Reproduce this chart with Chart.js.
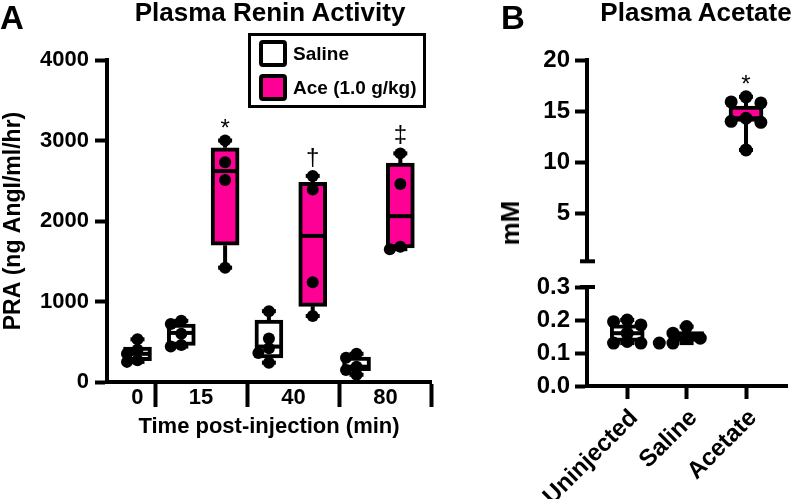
<!DOCTYPE html>
<html lang="en">
<head>
<meta charset="UTF-8" />
<title>Plasma Renin Activity / Plasma Acetate</title>
<script src="https://cdn.jsdelivr.net/npm/chart.js"></script>
<style>
    body { margin: 0; background: #fff; }
    #fig { position: relative; width: 806px; height: 499px; overflow: hidden;
           font-family: 'Liberation Sans', Arial, sans-serif; font-weight: bold; color: #000; }
    #fig canvas { position: absolute; top: 0; }
    .txt { position: absolute; white-space: nowrap; line-height: 1; }
    #legend { position: absolute; left: 248px; top: 33px; width: 172px; height: 69px; border: 3px solid #000; }
    .key { position: absolute; left: 8px; height: 27px; display: flex; align-items: center; font-size: 19px; }
    .sw { width: 28px; height: 27px; box-sizing: border-box; border: 4px solid #000; border-radius: 4px; margin-right: 6px; }
</style>
</head>
<body>
<div id="fig">
    <canvas id="praChart" width="460" height="499" style="left:0"></canvas>
    <canvas id="aceHigh" width="346" height="499" style="left:460px"></canvas>
    <canvas id="aceLow" width="346" height="499" style="left:460px"></canvas>

    <div class="txt" style="left:0; top:1px; font-size:33px;">A</div>
    <div class="txt" style="left:270px; top:-1px; font-size:26px; transform:translateX(-50%);">Plasma Renin Activity</div>
    <div id="legend"></div>

    <div class="txt" style="left:501px; top:1px; font-size:33px;">B</div>
    <div class="txt" style="left:696px; top:-1px; font-size:26px; transform:translateX(-50%);">Plasma Acetate</div>
    <div class="txt" style="left:510px; top:223px; font-size:26px; transform:translate(-50%,-50%) rotate(-90deg);">mM</div>
</div>

<script>
    // ---- panel A : plasma renin activity ----
    const seriesNames = ['Saline', 'Ace (1.0 g/kg)'];
    const praGroups = ['0', '15', '40', '80'];
    const praGroupPos = [0, 1.45, 3.56, 5.66];       // where the time labels sit
    const praDividers = [0.4, 2.5, 4.62, 6.7];        // tick marks between time groups
    const praX = [0, 1, 2, 3, 4, 5, 6];
    const praSeries = [0, 0, 1, 0, 1, 0, 1];          // 0 = saline, 1 = acetate
    const praMin = [250, 440, 1420, 240, 820, 90, 1650];
    const praQ1 = [265, 455, 1700, 300, 940, 140, 1665];
    const praMedian = [350, 610, 2620, 440, 1815, 190, 2060];
    const praQ3 = [435, 720, 2910, 770, 2480, 310, 2720];
    const praMax = [530, 760, 3000, 880, 2560, 350, 2840];
    const praPoints = [
        [530, 400, 350, 270, 250],
        [760, 720, 600, 460, 440],
        [3000, 2730, 2510, 1420],
        [880, 540, 420, 360, 240],
        [2560, 2390, 1240, 820],
        [350, 300, 190, 150, 90],
        [2840, 2460, 1680, 1650]
    ];
    const praMarks = ['', '', '*', '', '†', '', '‡'];
    const praYTicks = [0, 1000, 2000, 3000, 4000];

    // ---- panel B : plasma acetate ----
    const aceGroups = ['Uninjected', 'Saline', 'Acetate'];
    const aceX = [0, 1, 2];
    const aceSeries = [0, 0, 1];
    const aceMin = [0.13, 0.13, 11.2];
    const aceQ1 = [0.135, 0.135, 14.0];
    const aceMedian = [0.16, 0.15, 14.3];
    const aceQ3 = [0.185, 0.165, 15.5];
    const aceMax = [0.20, 0.18, 16.4];
    const acePoints = [
        [0.20, 0.195, 0.185, 0.16, 0.135, 0.13, 0.13],
        [0.18, 0.16, 0.15, 0.145, 0.13, 0.13],
        [16.4, 15.9, 15.8, 14.3, 14.0, 13.9, 11.2]
    ];
    const aceMarks = ['', '', '*'];
    const aceHighTicks = [0.3, 5, 10, 15, 20];
    const aceLowTicks = [0, 0.1, 0.2, 0.3];

    const magenta = '#ff0096';
    const fills = ['#ffffff', magenta];
    const FONT = "'Liberation Sans', Arial, sans-serif";

    Chart.defaults.font.family = FONT;
    Chart.defaults.font.weight = 'bold';
    Chart.defaults.color = '#000';

    // legend
    const legend = document.getElementById('legend');
    seriesNames.forEach((name, k) => {
        const row = document.createElement('div');
        row.className = 'key';
        row.style.top = (4 + k * 34) + 'px';
        row.innerHTML = `<span class="sw" style="background:${fills[k]}"></span>${name}`;
        legend.appendChild(row);
    });

    // points lying close together are put side by side
    function spread(vals, tol, step) {
        const slots = [0, -1, 1, -2, 2];
        const out = [];
        vals.forEach((v, k) => {
            const used = out.filter((o, j) => Math.abs(vals[j] - v) < tol);
            const s = slots.find(s => !used.includes(s * step));
            out.push((s === undefined ? 0 : s) * step);
        });
        return out;
    }

    function boxSets(idx, xs, mins, q1s, meds, q3s, maxs, pts, series, sz) {
        const whisk = [], caps = [], mids = [], dots = [];
        idx.forEach(i => {
            const x = xs[i];
            whisk.push({x, y: maxs[i]}, {x, y: q3s[i]}, {x, y: null},
                       {x, y: q1s[i]}, {x, y: mins[i]}, {x, y: null});
            caps.push({x, y: mins[i]}, {x, y: maxs[i]});
            mids.push({x, y: meds[i]});
            const off = spread(pts[i], sz.tol, sz.jitter);
            pts[i].forEach((v, k) => dots.push({x: x + off[k], y: v}));
        });
        return [
            { type: 'bar', data: idx.map(i => ({x: xs[i], y: [q1s[i], q3s[i]]})),
              backgroundColor: idx.map(i => fills[series[i]]), borderColor: '#000', borderWidth: 4,
              borderSkipped: false, barThickness: sz.bar, order: 4 },
            { type: 'line', data: whisk, borderColor: '#000', borderWidth: 4, pointRadius: 0,
              spanGaps: false, fill: false, clip: false, order: 3 },
            { type: 'scatter', data: caps, pointStyle: 'line', pointRadius: 7, pointBorderWidth: 4,
              pointBorderColor: '#000', clip: false, order: 2 },
            { type: 'scatter', data: mids, pointStyle: 'line', pointRadius: sz.bar / 2 - 2, pointBorderWidth: 4,
              pointBorderColor: '#000', clip: false, order: 1 },
            { type: 'scatter', data: dots, pointStyle: 'circle', pointRadius: sz.dot, pointBackgroundColor: '#000',
              pointBorderWidth: 0, clip: false, order: 0 }
        ];
    }

    // significance symbols above the top whisker
    function marksPlugin(idx, xs, maxs, marks) {
        const lift = {'*': 5, '†': 11, '‡': 11};
        return {
            id: 'marks',
            afterDatasetsDraw(chart) {
                const {ctx, scales: {x, y}} = chart;
                ctx.save();
                ctx.font = '24px ' + FONT;
                ctx.textAlign = 'center';
                ctx.textBaseline = 'alphabetic';
                ctx.fillStyle = '#000';
                idx.forEach(i => {
                    if (!marks[i]) return;
                    ctx.fillText(marks[i], x.getPixelForValue(xs[i]), y.getPixelForValue(maxs[i]) - lift[marks[i]]);
                });
                ctx.restore();
            }
        };
    }

    // end cap where the y axis is broken
    function breakCap(edge) {
        return {
            id: 'breakCap',
            afterDraw(chart) {
                const {ctx, chartArea} = chart;
                const y = edge === 'bottom' ? chartArea.bottom : chartArea.top;
                ctx.save();
                ctx.strokeStyle = '#000';
                ctx.lineWidth = 4;
                ctx.beginPath();
                ctx.moveTo(chartArea.left - 7, y);
                ctx.lineTo(chartArea.left + 8, y);
                ctx.stroke();
                ctx.restore();
            }
        };
    }

    const axisLine = { color: '#000', width: 4 };

    // ---------- Panel A ----------
    const praTickVals = [...praGroupPos, ...praDividers].sort((a, b) => a - b);
    new Chart(document.getElementById('praChart'), {
        type: 'bar',
        data: { datasets: boxSets(praX, praX, praMin, praQ1, praMedian, praQ3, praMax, praPoints, praSeries,
                                  {bar: 28, dot: 6, jitter: 0.24, tol: 100}) },
        options: {
            responsive: false, animation: false, events: [],
            layout: { padding: { left: 0, top: 60, right: 29, bottom: 0 } },
            plugins: { legend: { display: false }, tooltip: { enabled: false } },
            scales: {
                x: {
                    type: 'linear', min: -0.696, max: 6.7, offset: false,
                    afterBuildTicks: s => { s.ticks = praTickVals.map(v => ({value: v})); },
                    afterFit: s => { s.height = 117; },
                    border: axisLine,
                    grid: { offset: false, drawOnChartArea: false, tickLength: 25, tickWidth: 4,
                            tickColor: c => (c.tick && praDividers.includes(c.tick.value)) ? '#000' : 'rgba(0,0,0,0)' },
                    ticks: { autoSkip: false, maxRotation: 0, padding: -22, font: { size: 22 },
                             callback: v => { const k = praGroupPos.indexOf(v); return k >= 0 ? praGroups[k] : ''; } },
                    title: { display: true, text: 'Time post-injection (min)', font: { size: 22 },
                             padding: { top: 0, bottom: 59 } }
                },
                y: {
                    min: 0, max: 4000,
                    afterBuildTicks: s => { s.ticks = praYTicks.map(v => ({value: v})); },
                    afterFit: s => { s.width = 107; },
                    border: axisLine,
                    grid: { drawOnChartArea: false, tickLength: 12, tickWidth: 4, tickColor: '#000' },
                    ticks: { padding: 6, font: { size: 22 }, callback: v => String(v) },
                    title: { display: true, text: 'PRA (ng AngI/ml/hr)', font: { size: 23 },
                             padding: { top: 0, bottom: 0 } }
                }
            }
        },
        plugins: [marksPlugin(praX, praX, praMax, praMarks)]
    });

    // ---------- Panel B (broken y axis: two stacked charts) ----------
    const highIdx = aceX.filter(i => aceMax[i] > 0.3);
    const lowIdx = aceX.filter(i => aceMax[i] <= 0.3);
    const aceXScale = { type: 'linear', min: -0.677, max: 2.69, offset: false };

    new Chart(document.getElementById('aceHigh'), {
        type: 'bar',
        data: { datasets: boxSets(highIdx, aceX, aceMin, aceQ1, aceMedian, aceQ3, aceMax, acePoints, aceSeries,
                                  {bar: 34, dot: 6.5, jitter: 0.25, tol: 0.9}) },
        options: {
            responsive: false, animation: false, events: [],
            layout: { padding: { left: 0, top: 60, right: 0, bottom: 237.7 } },
            plugins: { legend: { display: false }, tooltip: { enabled: false } },
            scales: {
                x: Object.assign({ display: false }, aceXScale),
                y: {
                    min: 0.3, max: 20,
                    afterBuildTicks: s => { s.ticks = aceHighTicks.map(v => ({value: v})); },
                    afterFit: s => { s.width = 127; },
                    border: axisLine,
                    grid: { drawOnChartArea: false, tickLength: 12, tickWidth: 4,
                            tickColor: c => (c.tick && c.tick.value === 0.3) ? 'rgba(0,0,0,0)' : '#000' },
                    ticks: { padding: 5, font: { size: 24 }, callback: v => v === 0.3 ? '' : String(v) }
                }
            }
        },
        plugins: [marksPlugin(highIdx, aceX, aceMax, aceMarks), breakCap('bottom')]
    });

    new Chart(document.getElementById('aceLow'), {
        type: 'bar',
        data: { datasets: boxSets(lowIdx, aceX, aceMin, aceQ1, aceMedian, aceQ3, aceMax, acePoints, aceSeries,
                                  {bar: 34, dot: 6.5, jitter: 0.23, tol: 0.024}) },
        options: {
            responsive: false, animation: false, events: [],
            layout: { padding: { left: 0, top: 287, right: 0, bottom: 0 } },
            plugins: { legend: { display: false }, tooltip: { enabled: false } },
            scales: {
                x: Object.assign({
                    afterBuildTicks: s => { s.ticks = aceX.map(v => ({value: v})); },
                    afterFit: s => { s.height = 113; },
                    border: axisLine,
                    grid: { offset: false, drawOnChartArea: false, tickLength: 13, tickWidth: 4, tickColor: '#000' },
                    ticks: { autoSkip: false, minRotation: 45, maxRotation: 45, padding: 5, labelOffset: 7,
                             font: { size: 24 }, callback: v => aceGroups[v] }
                }, aceXScale),
                y: {
                    min: 0, max: 0.3,
                    afterBuildTicks: s => { s.ticks = aceLowTicks.map(v => ({value: v})); },
                    afterFit: s => { s.width = 127; },
                    border: axisLine,
                    grid: { drawOnChartArea: false, tickLength: 12, tickWidth: 4, tickColor: '#000' },
                    ticks: { padding: 5, font: { size: 24 }, callback: v => v.toFixed(1) }
                }
            }
        },
        plugins: [breakCap('top')]
    });
</script>
</body>
</html>
